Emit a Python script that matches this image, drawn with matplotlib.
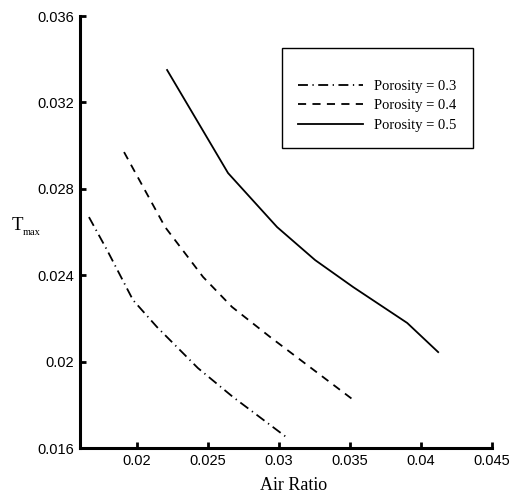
import matplotlib
matplotlib.use("Agg")
import matplotlib.pyplot as plt

# Data
x_p03 = [0.01663, 0.0179, 0.01973, 0.02142, 0.0243, 0.02677, 0.03051]
y_p03 = [0.02669, 0.02517, 0.02285, 0.0216, 0.0197, 0.01836, 0.01651]

x_p04 = [0.0191, 0.02199, 0.02466, 0.0267, 0.02938, 0.03515]
y_p04 = [0.0297, 0.02623, 0.02392, 0.02253, 0.02114, 0.01827]

x_p05 = [0.02213, 0.02642, 0.02987, 0.03255, 0.03523, 0.03903, 0.04121]
y_p05 = [0.0335, 0.02873, 0.02623, 0.0247, 0.02345, 0.02179, 0.02044]

labels = ["Porosity = 0.3", "Porosity = 0.4", "Porosity = 0.5"]

xticks = [0.02, 0.025, 0.03, 0.035, 0.04, 0.045]
xticklabels = ["0.02", "0.025", "0.03", "0.035", "0.04", "0.045"]
yticks = [0.016, 0.02, 0.024, 0.028, 0.032, 0.036]
yticklabels = ["0.016", "0.02", "0.024", "0.028", "0.032", "0.036"]

fig = plt.figure(figsize=(5.12, 5.01), dpi=100)
ax = fig.add_axes([80/512, 53/501, 412/512, 432/501])

ax.plot(x_p03, y_p03, color="black", lw=1.3, linestyle=(0, (5.5, 2.5, 0.7, 2.5)), label=labels[0])
ax.plot(x_p04, y_p04, color="black", lw=1.3, linestyle=(0, (4.5, 3.5)), label=labels[1])
ax.plot(x_p05, y_p05, color="black", lw=1.3, linestyle="-", label=labels[2])

ax.set_xlim(0.016, 0.045)
ax.set_ylim(0.016, 0.036)
ax.set_xticks(xticks)
ax.set_xticklabels(xticklabels)
ax.set_yticks(yticks)
ax.set_yticklabels(yticklabels)

for s in ["top", "right"]:
    ax.spines[s].set_visible(False)
for s in ["left", "bottom"]:
    ax.spines[s].set_linewidth(2.2)

ax.tick_params(direction="in", length=4, width=2, labelsize=10.5, pad=4)
for lab in ax.get_xticklabels() + ax.get_yticklabels():
    lab.set_fontfamily("Liberation Sans")

ax.set_xlabel("Air Ratio", fontfamily="Liberation Serif", fontsize=13)
ax.xaxis.set_label_coords(0.519, -0.068)

# y label: T with small subscript "max"
ax.text(-0.166, 0.505, "T", transform=ax.transAxes, fontfamily="Liberation Serif",
        fontsize=13.5, ha="left", va="baseline")
ax.text(-0.139, 0.492, "max", transform=ax.transAxes, fontfamily="Liberation Serif",
        fontsize=7.5, ha="left", va="baseline")

leg = ax.legend(loc="upper left", bbox_to_anchor=(282/512, 1 - 48/501),
                bbox_transform=fig.transFigure, frameon=True, fancybox=False,
                edgecolor="black", framealpha=1, borderpad=1.12, handlelength=4.4,
                handletextpad=0.8, labelspacing=0.43, borderaxespad=0,
                title=" ", title_fontsize=6,
                prop={"family": "Liberation Serif", "size": 10.5})
leg.get_frame().set_linewidth(1.0)

fig.savefig("out.png", dpi=100)
